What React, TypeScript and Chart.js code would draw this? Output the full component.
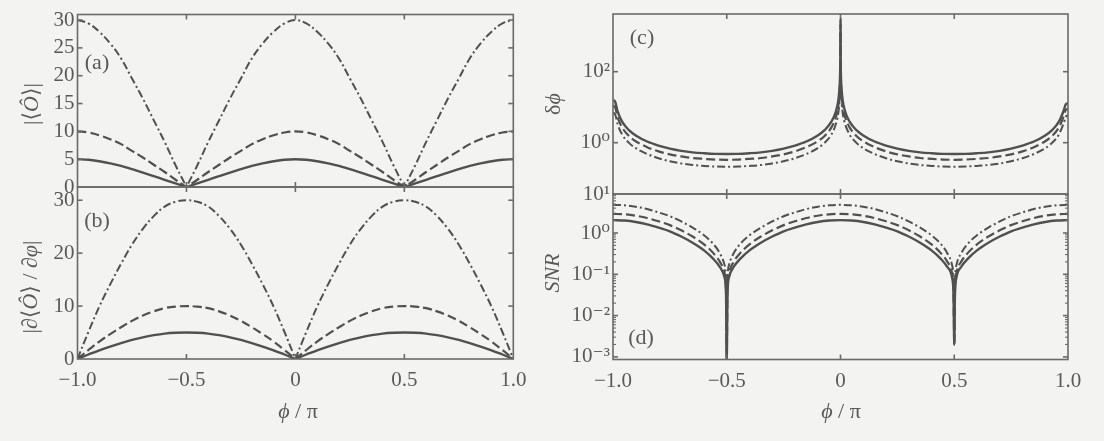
import React, { useEffect, useRef } from "react";
import { Chart, registerables } from "chart.js";
Chart.register(...registerables);

const FONT = '"Liberation Serif", "Times New Roman", "DejaVu Serif", serif';
const INK = "#595959";
const LINE = "#505050";
const AXIS = "#6a6a6a";
const BG = "#f3f3f1";

// ---------- shared x axis ----------
const X_TICKS = [-1, -0.5, 0, 0.5, 1];
const X_TICK_LABELS = ["−1.0", "−0.5", "0", "0.5", "1.0"];

// ---------- panel (a): |<O>| ----------
const X_A = [-1, -0.95, -0.9, -0.85, -0.8, -0.75, -0.7, -0.65, -0.6, -0.55, -0.51, -0.5,
  -0.49, -0.45, -0.4, -0.35, -0.3, -0.25, -0.2, -0.15, -0.1, -0.05, 0,
  0.05, 0.1, 0.15, 0.2, 0.25, 0.3, 0.35, 0.4, 0.45, 0.49, 0.5,
  0.51, 0.55, 0.6, 0.65, 0.7, 0.75, 0.8, 0.85, 0.9, 0.95, 1];
const A_SOLID = [5.0, 4.9, 4.62, 4.25, 3.8, 3.2, 2.6, 1.95, 1.3, 0.64, 0.13, 0,
  0.13, 0.64, 1.3, 1.95, 2.6, 3.2, 3.8, 4.25, 4.62, 4.9, 5.0,
  4.9, 4.62, 4.25, 3.8, 3.2, 2.6, 1.95, 1.3, 0.64, 0.13, 0,
  0.13, 0.64, 1.3, 1.95, 2.6, 3.2, 3.8, 4.25, 4.62, 4.9, 5.0];
const A_DASHED = [10, 9.8, 9.3, 8.6, 7.7, 6.5, 5.3, 4.0, 2.7, 1.3, 0.26, 0,
  0.26, 1.3, 2.7, 4.0, 5.3, 6.5, 7.7, 8.6, 9.3, 9.8, 10,
  9.8, 9.3, 8.6, 7.7, 6.5, 5.3, 4.0, 2.7, 1.3, 0.26, 0,
  0.26, 1.3, 2.7, 4.0, 5.3, 6.5, 7.7, 8.6, 9.3, 9.8, 10];
const A_DASHDOT = [30, 29.4, 27.9, 25.8, 23.1, 19.5, 15.9, 12.0, 8.1, 3.9, 0.78, 0,
  0.78, 3.9, 8.1, 12.0, 15.9, 19.5, 23.1, 25.8, 27.9, 29.4, 30,
  29.4, 27.9, 25.8, 23.1, 19.5, 15.9, 12.0, 8.1, 3.9, 0.78, 0,
  0.78, 3.9, 8.1, 12.0, 15.9, 19.5, 23.1, 25.8, 27.9, 29.4, 30];
const Y_TICKS_A = [0, 5, 10, 15, 20, 25, 30];
const Y_LABELS_A = ["0", "5", "10", "15", "20", "25", "30"];

// ---------- panel (b): |d<O>/dphi| ----------
const X_B = [-1, -0.99, -0.95, -0.9, -0.85, -0.8, -0.75, -0.7, -0.65, -0.6, -0.55, -0.5,
  -0.45, -0.4, -0.35, -0.3, -0.25, -0.2, -0.15, -0.1, -0.05, -0.01, 0,
  0.01, 0.05, 0.1, 0.15, 0.2, 0.25, 0.3, 0.35, 0.4, 0.45, 0.5,
  0.55, 0.6, 0.65, 0.7, 0.75, 0.8, 0.85, 0.9, 0.95, 0.99, 1];
const B_SOLID = [0, 0.18, 0.85, 1.65, 2.35, 3.0, 3.6, 4.1, 4.5, 4.8, 4.95, 5.0,
  4.95, 4.8, 4.5, 4.1, 3.6, 3.0, 2.35, 1.65, 0.85, 0.18, 0,
  0.18, 0.85, 1.65, 2.35, 3.0, 3.6, 4.1, 4.5, 4.8, 4.95, 5.0,
  4.95, 4.8, 4.5, 4.1, 3.6, 3.0, 2.35, 1.65, 0.85, 0.18, 0];
const B_DASHED = [0, 0.35, 1.7, 3.3, 4.7, 6.0, 7.2, 8.2, 9.0, 9.6, 9.9, 10.0,
  9.9, 9.6, 9.0, 8.2, 7.2, 6.0, 4.7, 3.3, 1.7, 0.35, 0,
  0.35, 1.7, 3.3, 4.7, 6.0, 7.2, 8.2, 9.0, 9.6, 9.9, 10.0,
  9.9, 9.6, 9.0, 8.2, 7.2, 6.0, 4.7, 3.3, 1.7, 0.35, 0];
const B_DASHDOT = [0, 1.05, 5.1, 9.9, 14.1, 18.0, 21.6, 24.6, 27.0, 28.8, 29.7, 30.0,
  29.7, 28.8, 27.0, 24.6, 21.6, 18.0, 14.1, 9.9, 5.1, 1.05, 0,
  1.05, 5.1, 9.9, 14.1, 18.0, 21.6, 24.6, 27.0, 28.8, 29.7, 30.0,
  29.7, 28.8, 27.0, 24.6, 21.6, 18.0, 14.1, 9.9, 5.1, 1.05, 0];
const Y_TICKS_B = [0, 10, 20, 30];
const Y_LABELS_B = ["0", "10", "20", "30"];

// ---------- panel (c): delta phi (log) ----------
const X_C = [-1, -0.99, -0.98, -0.96, -0.93, -0.9, -0.85, -0.8, -0.75, -0.7, -0.65, -0.6, -0.55, -0.5,
  -0.45, -0.4, -0.35, -0.3, -0.25, -0.2, -0.15, -0.1, -0.07, -0.04, -0.02, -0.01, -0.004, -0.0015, -0.0005, 0,
  0.0005, 0.0015, 0.004, 0.01, 0.02, 0.04, 0.07, 0.1, 0.15, 0.2, 0.25, 0.3, 0.35, 0.4, 0.45,
  0.5, 0.55, 0.6, 0.65, 0.7, 0.75, 0.8, 0.85, 0.9, 0.93, 0.96, 0.98, 0.99, 1];
const C_SOLID = [16, 14, 7.7, 3.9, 2.25, 1.6, 1.08, 0.83, 0.68, 0.59, 0.535, 0.505, 0.485, 0.48,
  0.485, 0.505, 0.535, 0.59, 0.68, 0.83, 1.08, 1.6, 2.25, 3.9, 7.7, 15, 38, 100, 300, 3000,
  300, 100, 38, 15, 7.7, 3.9, 2.25, 1.6, 1.08, 0.83, 0.68, 0.59, 0.535, 0.505, 0.485,
  0.48, 0.485, 0.505, 0.535, 0.59, 0.68, 0.83, 1.08, 1.6, 2.25, 3.9, 7.7, 12, 13];
const C_DASHED = [11, 9.7, 5.3, 2.7, 1.55, 1.1, 0.75, 0.57, 0.47, 0.41, 0.37, 0.35, 0.335, 0.33,
  0.335, 0.35, 0.37, 0.41, 0.47, 0.57, 0.75, 1.1, 1.55, 2.7, 5.3, 10.4, 26, 69, 207, 2100,
  207, 69, 26, 10.4, 5.3, 2.7, 1.55, 1.1, 0.75, 0.57, 0.47, 0.41, 0.37, 0.35, 0.335,
  0.33, 0.335, 0.35, 0.37, 0.41, 0.47, 0.57, 0.75, 1.1, 1.55, 2.7, 5.3, 8.3, 9];
const C_DASHDOT = [7, 6.2, 3.4, 1.7, 0.99, 0.7, 0.48, 0.365, 0.3, 0.26, 0.235, 0.222, 0.213, 0.21,
  0.213, 0.222, 0.235, 0.26, 0.3, 0.365, 0.48, 0.7, 0.99, 1.7, 3.4, 6.6, 17, 44, 132, 1300,
  132, 44, 17, 6.6, 3.4, 1.7, 0.99, 0.7, 0.48, 0.365, 0.3, 0.26, 0.235, 0.222, 0.213,
  0.21, 0.213, 0.222, 0.235, 0.26, 0.3, 0.365, 0.48, 0.7, 0.99, 1.7, 3.4, 5.3, 6];
const C_MIN = Math.pow(10, -1.445);
const C_MAX = Math.pow(10, 3.625);
const Y_TICKS_C = [C_MIN, 1, 100];
const Y_LABELS_C = ["10¹", "10⁰", "10²"];

// ---------- panel (d): SNR (log) ----------
const X_D = [-1, -0.95, -0.9, -0.85, -0.8, -0.75, -0.7, -0.65, -0.6, -0.56, -0.53, -0.51, -0.503, -0.5,
  -0.497, -0.49, -0.47, -0.44, -0.4, -0.35, -0.3, -0.25, -0.2, -0.15, -0.1, -0.05, 0,
  0.05, 0.1, 0.15, 0.2, 0.25, 0.3, 0.35, 0.4, 0.44, 0.47, 0.49, 0.497, 0.5,
  0.503, 0.51, 0.53, 0.56, 0.6, 0.65, 0.7, 0.75, 0.8, 0.85, 0.9, 0.95, 1];
const D_SOLID = [2.05, 2.0, 1.85, 1.62, 1.35, 1.1, 0.82, 0.58, 0.38, 0.24, 0.15, 0.085, 0.03, 0.0008,
  0.03, 0.085, 0.15, 0.24, 0.38, 0.58, 0.82, 1.1, 1.35, 1.62, 1.85, 2.0, 2.05,
  2.0, 1.85, 1.62, 1.35, 1.1, 0.82, 0.58, 0.38, 0.24, 0.15, 0.085, 0.03, 0.002,
  0.03, 0.085, 0.15, 0.24, 0.38, 0.58, 0.82, 1.1, 1.35, 1.62, 1.85, 2.0, 2.05];
const D_DASHED = [2.9, 2.83, 2.62, 2.3, 1.92, 1.55, 1.16, 0.82, 0.53, 0.33, 0.2, 0.11, 0.04, 0.0008,
  0.04, 0.11, 0.2, 0.33, 0.53, 0.82, 1.16, 1.55, 1.92, 2.3, 2.62, 2.83, 2.9,
  2.83, 2.62, 2.3, 1.92, 1.55, 1.16, 0.82, 0.53, 0.33, 0.2, 0.11, 0.04, 0.002,
  0.04, 0.11, 0.2, 0.33, 0.53, 0.82, 1.16, 1.55, 1.92, 2.3, 2.62, 2.83, 2.9];
const D_DASHDOT = [4.8, 4.68, 4.33, 3.8, 3.15, 2.55, 1.9, 1.35, 0.88, 0.55, 0.32, 0.17, 0.06, 0.0008,
  0.06, 0.17, 0.32, 0.55, 0.88, 1.35, 1.9, 2.55, 3.15, 3.8, 4.33, 4.68, 4.8,
  4.68, 4.33, 3.8, 3.15, 2.55, 1.9, 1.35, 0.88, 0.55, 0.32, 0.17, 0.06, 0.002,
  0.06, 0.17, 0.32, 0.55, 0.88, 1.35, 1.9, 2.55, 3.15, 3.8, 4.33, 4.68, 4.8];
const D_MIN = Math.pow(10, -3.063);
const D_MAX = Math.pow(10, 0.944);
const Y_TICKS_D = [0.001, 0.01, 0.1, 1];
const Y_LABELS_D = ["10⁻³", "10⁻²", "10⁻¹", "10⁰"];

const D_MINOR: number[] = [];
for (let k = -4; k <= 0; k++) for (let m = 2; m <= 9; m++) D_MINOR.push(m * Math.pow(10, k));

type Area = { left: number; top: number; right: number; bottom: number };
type Panel = {
  left: number; top: number; width: number; height: number;
  area: Area;
  xs: number[];
  series: number[][]; // [solid, dashed, dashdot]
  yType: "linear" | "logarithmic";
  yMin: number; yMax: number;
  yTicks: number[]; yLabels: string[];
  showX: boolean;
  minor?: number[];
  monotone: boolean;
};

const PANELS: Panel[] = [
  { left: 0, top: 0, width: 530, height: 200, area: { left: 77.5, top: 14.5, right: 513.3, bottom: 187 },
    xs: X_A, series: [A_SOLID, A_DASHED, A_DASHDOT], yType: "linear", yMin: 0, yMax: 31,
    yTicks: Y_TICKS_A, yLabels: Y_LABELS_A, showX: false, monotone: false },
  { left: 0, top: 180, width: 540, height: 261, area: { left: 77.5, top: 187, right: 513.3, bottom: 359 },
    xs: X_B, series: [B_SOLID, B_DASHED, B_DASHDOT], yType: "linear", yMin: 0, yMax: 32.5,
    yTicks: Y_TICKS_B, yLabels: Y_LABELS_B, showX: true, monotone: false },
  { left: 540, top: 0, width: 550, height: 210, area: { left: 613, top: 14, right: 1068, bottom: 194 },
    xs: X_C, series: [C_SOLID, C_DASHED, C_DASHDOT], yType: "logarithmic", yMin: C_MIN, yMax: C_MAX,
    yTicks: Y_TICKS_C, yLabels: Y_LABELS_C, showX: false, monotone: true },
  { left: 540, top: 185, width: 550, height: 256, area: { left: 613, top: 194, right: 1068, bottom: 359.5 },
    xs: X_D, series: [D_SOLID, D_DASHED, D_DASHDOT], yType: "logarithmic", yMin: D_MIN, yMax: D_MAX,
    yTicks: Y_TICKS_D, yLabels: Y_LABELS_D, showX: true, minor: D_MINOR, monotone: true },
];

const STYLES = [
  { dash: [] as number[], width: 2.4 },
  { dash: [9, 4], width: 2.2 },
  { dash: [8, 3, 2, 3], width: 2.0 },
];

const framePlugin = {
  id: "frame",
  afterDraw(chart: any, _args: any, opts: any) {
    const { ctx, chartArea: a, scales } = chart;
    ctx.save();
    ctx.strokeStyle = AXIS;
    ctx.lineWidth = 1.6;
    ctx.strokeRect(a.left, a.top, a.right - a.left, a.bottom - a.top);
    const seg = (x1: number, y1: number, x2: number, y2: number) => {
      ctx.beginPath(); ctx.moveTo(x1, y1); ctx.lineTo(x2, y2); ctx.stroke();
    };
    const xs = scales.x;
    for (const t of xs.ticks) {
      const p = xs.getPixelForValue(t.value);
      if (p <= a.left + 1 || p >= a.right - 1) continue;
      seg(p, a.bottom, p, a.bottom - 5);
      seg(p, a.top, p, a.top + 5);
    }
    const ys = scales.y;
    for (const t of ys.ticks) {
      const p = ys.getPixelForValue(t.value);
      if (p <= a.top + 1 || p >= a.bottom - 1) continue;
      seg(a.left, p, a.left + 5, p);
      seg(a.right, p, a.right - 5, p);
    }
    if (opts && opts.minor) {
      ctx.lineWidth = 1.1;
      for (const v of opts.minor) {
        const p = ys.getPixelForValue(v);
        if (p <= a.top + 1 || p >= a.bottom - 1) continue;
        seg(a.left, p, a.left + 3, p);
        seg(a.right, p, a.right - 3, p);
      }
    }
    ctx.restore();
  },
};

function makeChart(canvas: HTMLCanvasElement, p: Panel) {
  const yAxisW = p.area.left - p.left;
  const padTop = p.area.top - p.top;
  const padRight = p.left + p.width - p.area.right;
  const bottomSpace = p.top + p.height - p.area.bottom;
  const tickFont = { family: FONT, size: 21 };
  const zeroPad = (s: any) => { s.paddingLeft = 0; s.paddingRight = 0; s.paddingTop = 0; s.paddingBottom = 0; };
  const order = [2, 1, 0];
  const datasets = order.map((si) => ({
    data: p.xs.map((x, i) => ({ x, y: p.series[si][i] })),
    borderColor: LINE,
    borderWidth: STYLES[si].width,
    borderDash: STYLES[si].dash,
    pointRadius: 0,
    fill: false,
    tension: p.monotone ? 0 : 0.4,
    cubicInterpolationMode: p.monotone ? ("monotone" as const) : ("default" as const),
  }));
  return new Chart(canvas, {
    type: "line",
    data: { datasets },
    plugins: [framePlugin],
    options: {
      responsive: false,
      animation: false,
      devicePixelRatio: 1,
      layout: {
        autoPadding: false,
        padding: { left: 0, top: padTop, right: padRight, bottom: p.showX ? 0 : bottomSpace },
      },
      plugins: {
        legend: { display: false },
        tooltip: { enabled: false },
        // @ts-ignore
        frame: { minor: p.minor },
      },
      scales: {
        x: {
          type: "linear",
          min: -1, max: 1,
          bounds: "data",
          display: p.showX,
          grid: { display: false, drawTicks: false },
          border: { display: false },
          ticks: {
            padding: 9, color: INK, font: tickFont, maxRotation: 0, autoSkip: false,
            callback: (_v: any, i: number) => X_TICK_LABELS[i],
          },
          afterBuildTicks: (s: any) => { s.ticks = X_TICKS.map((v) => ({ value: v })); },
          afterFit: (s: any) => { if (p.showX) s.height = bottomSpace; zeroPad(s); },
        },
        y: {
          type: p.yType,
          min: p.yMin, max: p.yMax,
          bounds: "data",
          grid: { display: false, drawTicks: false },
          border: { display: false },
          ticks: {
            padding: 3, color: INK, font: tickFont, autoSkip: false,
            callback: (_v: any, i: number) => p.yLabels[i],
          },
          afterBuildTicks: (s: any) => { s.ticks = p.yTicks.map((v) => ({ value: v })); },
          afterFit: (s: any) => { s.width = yAxisW; zeroPad(s); },
        } as any,
      },
    },
  } as any);
}

const textBase: React.CSSProperties = {
  position: "absolute", whiteSpace: "nowrap", lineHeight: 1, fontFamily: FONT, color: INK,
};

function Label(props: { x: number; y: number; rotate?: boolean; size?: number; children: React.ReactNode }) {
  const { x, y, rotate, size = 22, children } = props;
  return (
    <div style={{ ...textBase, left: x, top: y, fontSize: size,
      transform: `translate(-50%, -50%)${rotate ? " rotate(-90deg)" : ""}` }}>
      {children}
    </div>
  );
}

export default function App() {
  const refs = useRef<(HTMLCanvasElement | null)[]>([]);
  useEffect(() => {
    const charts = PANELS.map((p, i) => makeChart(refs.current[i] as HTMLCanvasElement, p));
    return () => charts.forEach((c) => c.destroy());
  }, []);
  return (
    <div style={{ position: "absolute", left: 0, top: 0, width: 1104, height: 441, background: BG, overflow: "hidden" }}>
      {PANELS.map((p, i) => (
        <canvas key={i} ref={(el) => { refs.current[i] = el; }} width={p.width} height={p.height}
          style={{ position: "absolute", left: p.left, top: p.top, width: p.width, height: p.height }} />
      ))}
      <Label x={31} y={104} rotate>|⟨<i>Ô</i>⟩|</Label>
      <Label x={30} y={287} rotate>|∂⟨<i>Ô</i>⟩ / ∂<i>φ</i>|</Label>
      <Label x={553} y={104} rotate>δ<i>ϕ</i></Label>
      <Label x={552} y={273} rotate><i>SNR</i></Label>
      <Label x={97} y={62}>(a)</Label>
      <Label x={97} y={220}>(b)</Label>
      <Label x={642} y={37}>(c)</Label>
      <Label x={641} y={337}>(d)</Label>
      <Label x={298} y={411}><i>ϕ</i> / π</Label>
      <Label x={841} y={411}><i>ϕ</i> / π</Label>
    </div>
  );
}
